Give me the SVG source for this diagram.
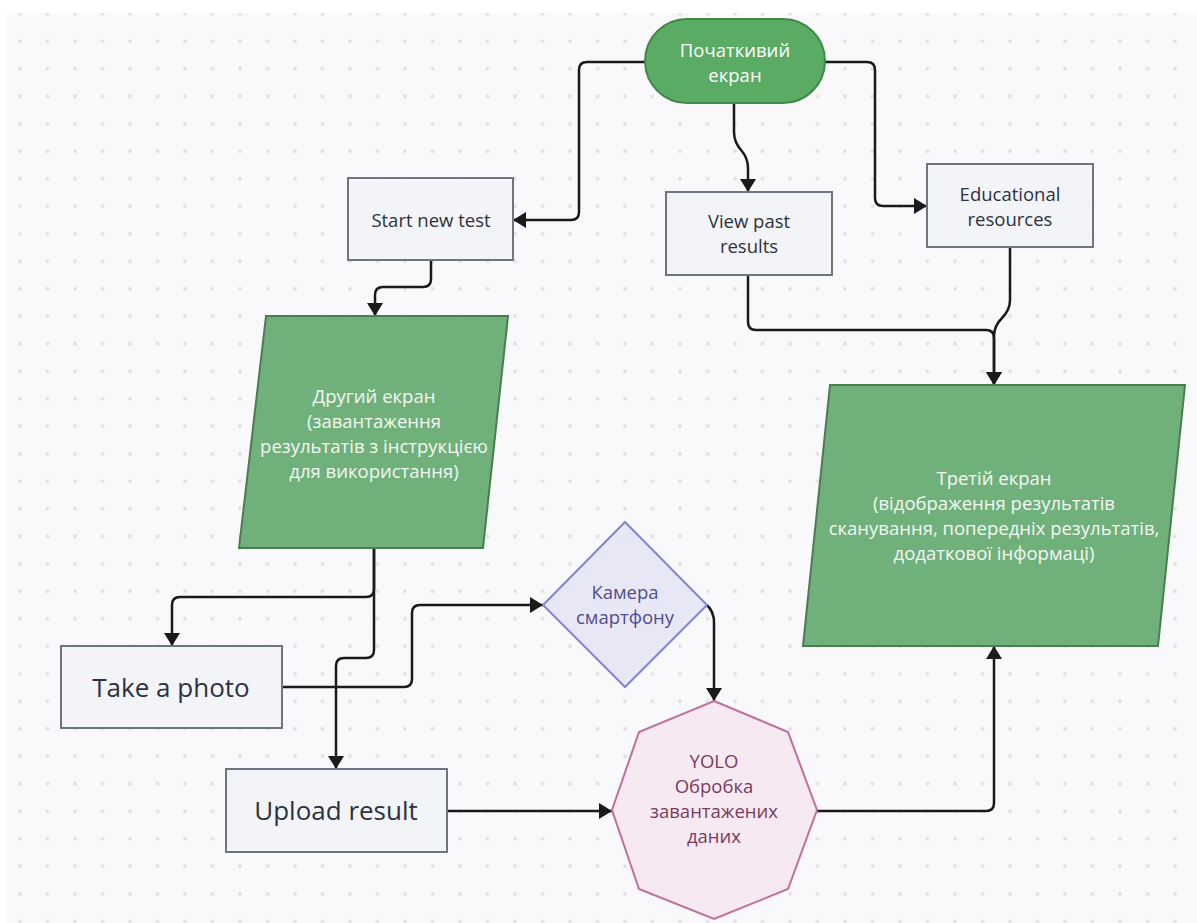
<svg xmlns="http://www.w3.org/2000/svg" width="1197" height="923" viewBox="0 0 1197 923">
  <defs>
    <pattern id="dots" x="6.25" y="0" width="27.5" height="27.5" patternUnits="userSpaceOnUse">
      <circle cx="13.75" cy="13.75" r="1.9" fill="#e1e1e5"/>
    </pattern>
    <marker id="arr" viewBox="0 0 13 16" refX="13" refY="8" markerWidth="13" markerHeight="16" markerUnits="userSpaceOnUse" orient="auto">
      <path d="M0,0 L13,8 L0,16 z" fill="#1a1a1a"/>
    </marker>
    <style>
      .edge{fill:none;stroke:#1a1a1a;stroke-width:2.5;}
      .box{fill:#f3f4f8;stroke:#6e7480;stroke-width:2;}
      .green{fill:#70b07a;stroke:#4a7d52;stroke-width:2;}
      .t{font-family:"Open Sans","Noto Sans","DejaVu Sans",sans-serif;text-anchor:middle;font-size:18.5px;}
      .bt{fill:#2d3142;}
      .big{fill:#2d3142;font-size:26px;}
      .wt{fill:#ffffff;}
      .gt{fill:#f3f8f3;}
      .dt{fill:#4d4d90;}
      .ot{fill:#7a3b5c;}
    </style>
  </defs>
  <rect x="0" y="0" width="1197" height="923" fill="#ffffff"/>
  <rect x="7" y="13" width="1190" height="910" fill="#f9f9fb"/>
  <rect x="7" y="13" width="1190" height="910" fill="url(#dots)"/>

  <g id="connectors">
    <path class="edge" d="M645,62 H587 Q579,62 579,70 V212 Q579,220 571,220 H513" marker-end="url(#arr)"/>
    <path class="edge" d="M734,103 V132 Q734,142 741,150 Q748,158 748,168 V192" marker-end="url(#arr)"/>
    <path class="edge" d="M825,62 H867 Q875,62 875,70 V198 Q875,206 883,206 H927" marker-end="url(#arr)"/>
    <path class="edge" d="M431,260 V279 Q431,287 423,287 H383 Q375,287 375,295 V316" marker-end="url(#arr)"/>
    <path class="edge" d="M748,275 V322 Q748,330 756,330 H986 Q994,330 994,338 V385" marker-end="url(#arr)"/>
    <path class="edge" d="M1010,247 V300 Q1010,310 1002,318 Q994,326 994,336 V385" marker-end="url(#arr)"/>
    <path class="edge" d="M374,548 V589 Q374,597 366,597 H180 Q172,597 172,605 V646" marker-end="url(#arr)"/>
    <path class="edge" d="M374,548 V650 Q374,658 366,658 H344 Q336,658 336,666 V769" marker-end="url(#arr)"/>
    <path class="edge" d="M282,687 H404 Q412,687 412,679 V613 Q412,605 420,605 H543" marker-end="url(#arr)"/>
    <path class="edge" d="M707,605 Q714,612 714,622 V701" marker-end="url(#arr)"/>
    <path class="edge" d="M447,811 H612" marker-end="url(#arr)"/>
    <path class="edge" d="M817,811 H986 Q994,811 994,803 V646" marker-end="url(#arr)"/>
  </g>

  <g id="start">
    <rect x="645" y="19" width="180" height="84" rx="42" fill="#5aab63" stroke="#3f8a47" stroke-width="2"/>
    <text class="t wt" x="735" y="57">Початкивий</text>
    <text class="t wt" x="735" y="82">екран</text>
  </g>

  <g id="start-new-test">
    <rect class="box" x="348" y="178" width="165" height="82"/>
    <text class="t bt" x="431" y="227">Start new test</text>
  </g>

  <g id="view-past-results">
    <rect class="box" x="666" y="192" width="166" height="83"/>
    <text class="t bt" x="749" y="228">View past</text>
    <text class="t bt" x="749" y="253">results</text>
  </g>

  <g id="educational-resources">
    <rect class="box" x="927" y="164" width="166" height="83"/>
    <text class="t bt" x="1010" y="201">Educational</text>
    <text class="t bt" x="1010" y="226">resources</text>
  </g>

  <g id="second-screen">
    <polygon class="green" points="266,316 508,316 483,548 239,548"/>
    <text class="t gt" x="374" y="403">Другий екран</text>
    <text class="t gt" x="374" y="428">(завантаження</text>
    <text class="t gt" x="374" y="453">результатів з інструкцією</text>
    <text class="t gt" x="374" y="478">для використання)</text>
  </g>

  <g id="third-screen">
    <polygon class="green" points="830,385 1185,385 1158,646 803,646"/>
    <text class="t gt" x="994" y="485">Третій екран</text>
    <text class="t gt" x="994" y="510">(відображення результатів</text>
    <text class="t gt" x="994" y="535">сканування, попередніх результатів,</text>
    <text class="t gt" x="994" y="560">додаткової інформаці)</text>
  </g>

  <g id="take-a-photo">
    <rect class="box" x="61" y="646" width="221" height="82"/>
    <text class="t big" x="171" y="697">Take a photo</text>
  </g>

  <g id="upload-result">
    <rect class="box" x="226" y="769" width="221" height="83"/>
    <text class="t big" x="336" y="820">Upload result</text>
  </g>

  <g id="camera">
    <polygon points="625,522 707,605 625,687 543,605" fill="#e7e7f6" stroke="#8484d0" stroke-width="2"/>
    <text class="t dt" x="625" y="599">Камера</text>
    <text class="t dt" x="625" y="624">смартфону</text>
  </g>

  <g id="yolo">
    <polygon points="714,701 788,732 817,810 788,889 714,919 639,889 612,810 639,732" fill="#f7e9f1" stroke="#bf6f9c" stroke-width="2"/>
    <text class="t ot" x="714" y="768">YOLO</text>
    <text class="t ot" x="714" y="793">Обробка</text>
    <text class="t ot" x="714" y="818">завантажених</text>
    <text class="t ot" x="714" y="843">даних</text>
  </g>
</svg>
